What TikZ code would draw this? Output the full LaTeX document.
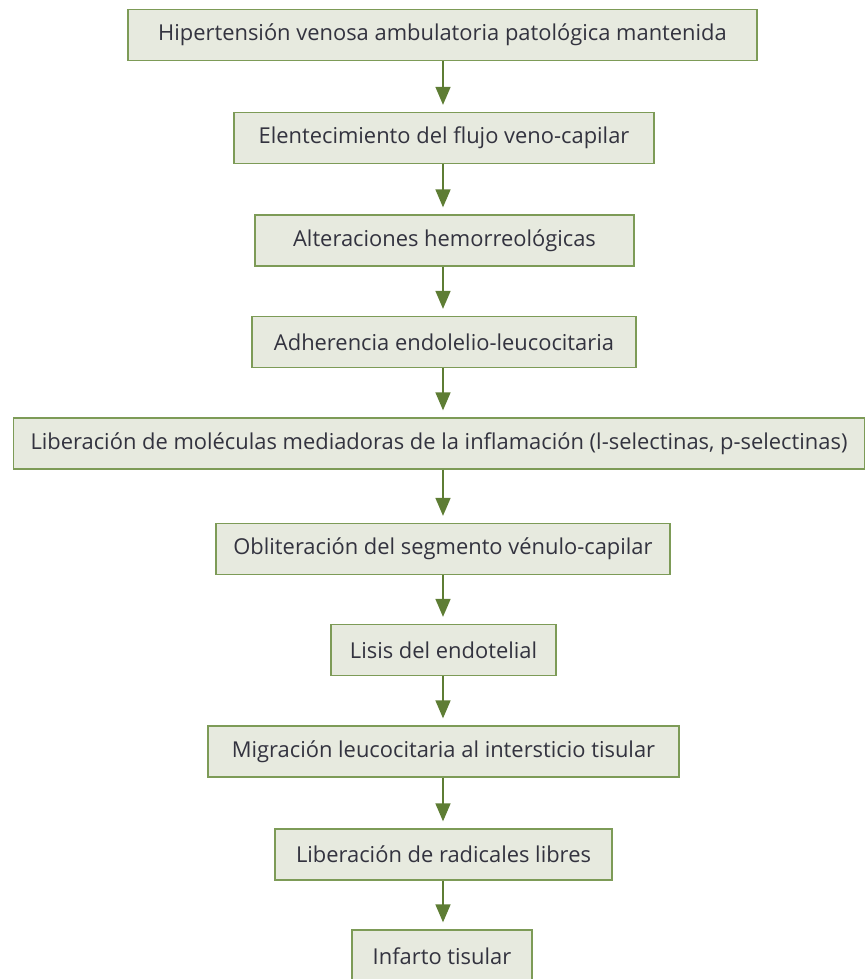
\documentclass[tikz,border=0pt]{standalone}
\usepackage{fontspec}
\setmainfont{Open Sans}
\usetikzlibrary{arrows.meta}
\definecolor{boxfill}{HTML}{E7EADF}
\definecolor{boxline}{HTML}{7D9B57}
\definecolor{arrowcol}{HTML}{5E7D34}
\definecolor{txtcol}{HTML}{33333F}
\tikzset{
  flowbox/.style={draw=boxline, fill=boxfill, line width=1.3pt, minimum height=51pt, inner sep=0pt, text=txtcol, font=\fontsize{21.9}{26}\selectfont},
  flowarrow/.style={draw=arrowcol, line width=1.6pt, -{Triangle[width=15pt,length=18pt]}, shorten >=7pt}
}
\begin{document}
\begin{tikzpicture}[x=1pt,y=-1pt]
\useasboundingbox (0,0) rectangle (865,979);
\coordinate (ax) at (443,0);
\node[flowbox, minimum width=629pt] (n1) at (442.5,35) {Hipertensión venosa ambulatoria patológica mantenida};
\node[flowbox, minimum width=420pt] (n2) at (444,138) {Elentecimiento del flujo veno-capilar};
\node[flowbox, minimum width=379pt] (n3) at (444.5,240.5) {Alteraciones hemorreológicas};
\node[flowbox, minimum width=384pt] (n4) at (444,342) {Adherencia endolelio-leucocitaria};
\node[flowbox, minimum width=851pt] (n5) at (439,443.5) {Liberación de moléculas mediadoras de la inflamación (l-selectinas, p-selectinas)};
\node[flowbox, minimum width=454pt] (n6) at (443,549) {Obliteración del segmento vénulo-capilar};
\node[flowbox, minimum width=225pt] (n7) at (443.5,650) {Lisis del endotelial};
\node[flowbox, minimum width=471pt] (n8) at (443.5,751.5) {Migración leucocitaria al intersticio tisular};
\node[flowbox, minimum width=337pt] (n9) at (443.5,854.5) {Liberación de radicales libres};
\node[flowbox, minimum width=180pt, minimum height=52pt] (n10) at (442,956) {Infarto tisular};
\foreach \a/\b in {n1/n2,n2/n3,n3/n4,n4/n5,n5/n6,n6/n7,n7/n8,n8/n9,n9/n10}{
  \draw[flowarrow] (\a.south -| ax) -- (\b.north -| ax);
}
\end{tikzpicture}
\end{document}
